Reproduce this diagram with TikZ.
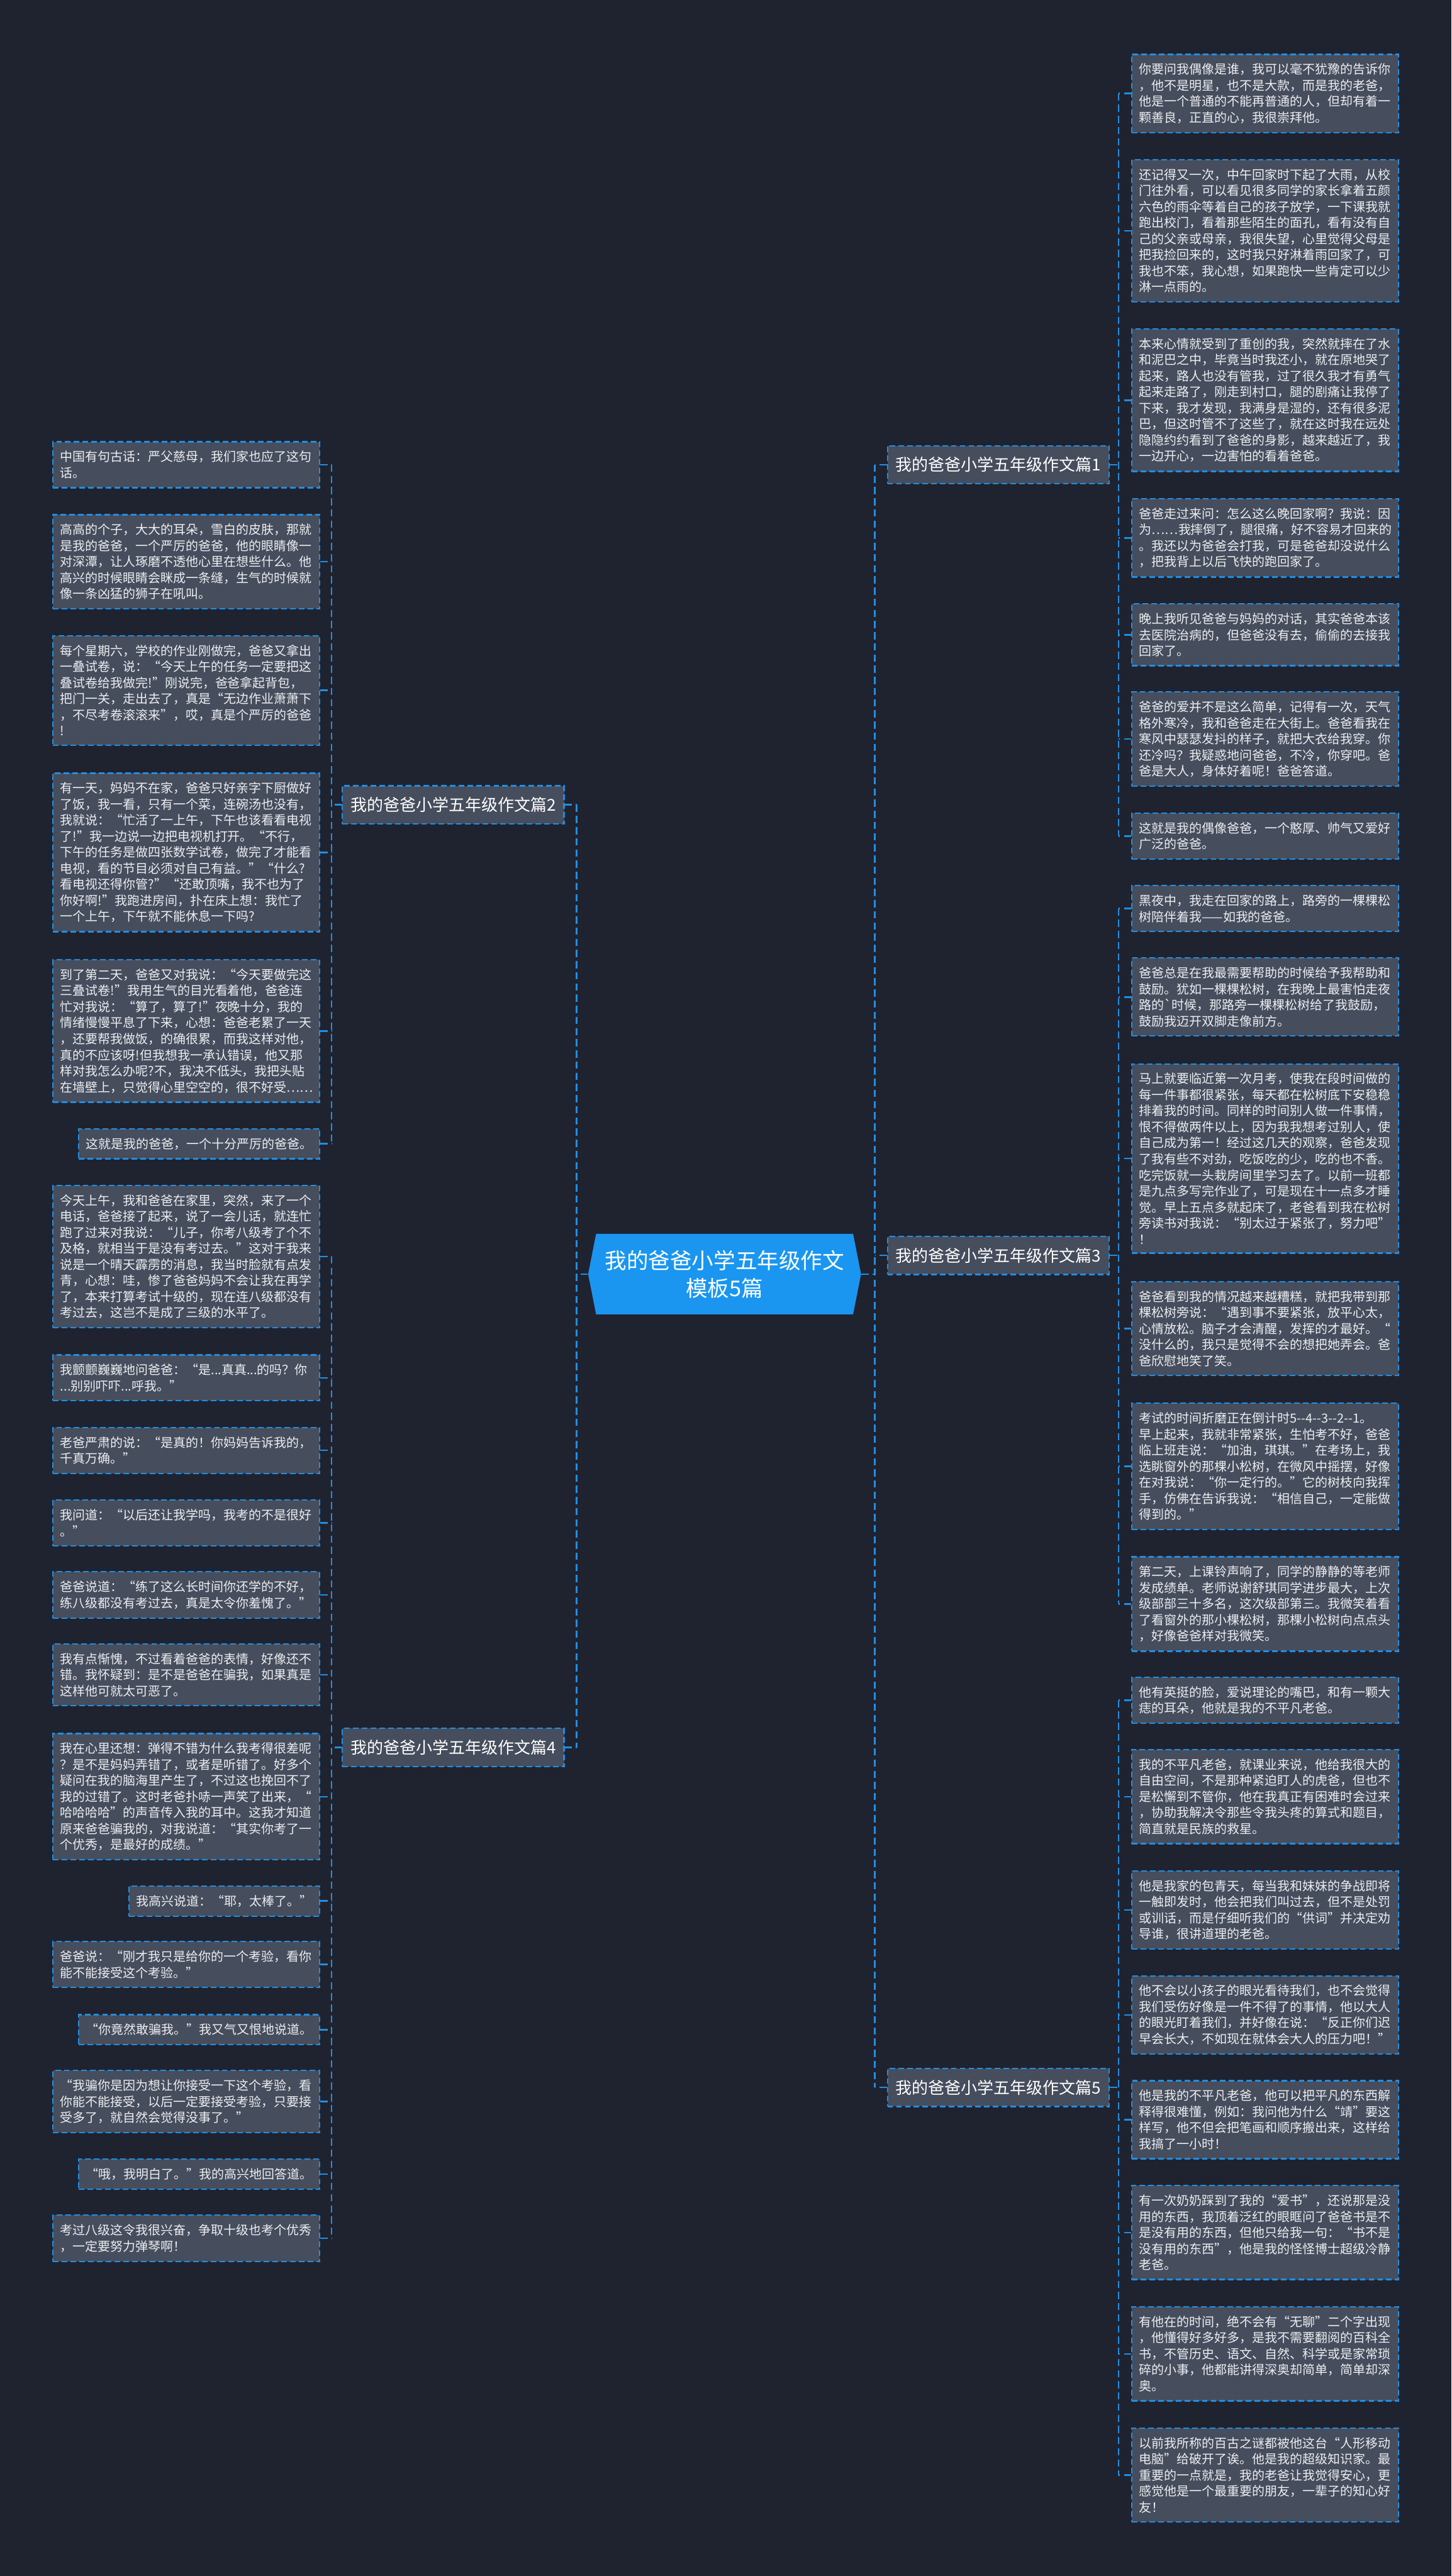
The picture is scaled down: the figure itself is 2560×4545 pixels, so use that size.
\documentclass[tikz,border=0pt]{standalone}
\usepackage{fontspec}
\usepackage{tikz}
\usetikzlibrary{positioning}
\newfontfamily\cjk{Noto Sans CJK SC}
\definecolor{NightBg}{RGB}{31,35,48}
\definecolor{CardGray}{RGB}{70,77,92}
\definecolor{LinkBlue}{RGB}{33,142,226}
\definecolor{RootBlue}{RGB}{26,150,240}
\definecolor{PaleText}{RGB}{236,238,242}
\tikzset{
  note/.style={draw=LinkBlue,fill=CardGray,line width=0.7pt,dash pattern=on 2.8pt off 1.6pt,
    inner xsep=0.13cm,inner ysep=0.16cm,align=left,text=PaleText,
    font=\cjk\fontsize{6.3}{8.05}\selectfont},
  para/.style={note,text width=4.44cm},
  topic/.style={draw=LinkBlue,fill=CardGray,line width=0.7pt,dash pattern=on 2.8pt off 1.6pt,
    inner xsep=0.145cm,inner ysep=0pt,minimum height=0.67cm,text=white,
    font=\cjk\fontsize{8.2}{10}\selectfont},
  root/.style={fill=NightBg,inner sep=0pt,minimum width=4.81cm,minimum height=1.42cm,
    align=center,text=white,font=\cjk\fontsize{10.9}{13.9}\selectfont,
    path picture={\fill[RootBlue] (path picture bounding box.west)
      -- ([xshift=0.14cm]path picture bounding box.north west)
      -- ([xshift=-0.14cm]path picture bounding box.north east)
      -- (path picture bounding box.east)
      -- ([xshift=-0.14cm]path picture bounding box.south east)
      -- ([xshift=0.14cm]path picture bounding box.south west) -- cycle;}},
  link/.style={draw=LinkBlue,line width=0.8pt,dash pattern=on 3.6pt off 2pt},
}

\begin{document}
\begin{tikzpicture}[x=0.01cm,y=-0.01cm]
  \fill[NightBg] (0,0) rectangle (2560,4545);
  \useasboundingbox (0,0) rectangle (2560,4545);

  \node[root] (root) at (1278,2248) {我的爸爸小学五年级作文\\模板5篇};

  \node[topic,anchor=west] (b1) at (1564,820) {我的爸爸小学五年级作文篇1};
  \node[topic,anchor=east] (b2) at (996,1420) {我的爸爸小学五年级作文篇2};
  \node[topic,anchor=west] (b3) at (1564,2215) {我的爸爸小学五年级作文篇3};
  \node[topic,anchor=east] (b4) at (996,3083) {我的爸爸小学五年级作文篇4};
  \node[topic,anchor=west] (b5) at (1564,3683) {我的爸爸小学五年级作文篇5};

  \coordinate (lt) at (1017,2248);
  \coordinate (rt) at (1543,2248);
  \coordinate (s1) at (1973,820);
  \coordinate (s2) at (585,1420);
  \coordinate (s3) at (1973,2215);
  \coordinate (s4) at (585,3083);
  \coordinate (s5) at (1973,3683);

  % 篇1
  \node[para,anchor=west] (p1-1) at (1995,165) {你要问我偶像是谁，我可以毫不犹豫的告诉你\\，他不是明星，也不是大款，而是我的老爸，\\他是一个普通的不能再普通的人，但却有着一\\颗善良，正直的心，我很崇拜他。};
  \node[para,anchor=west] (p1-2) at (1995,407) {还记得又一次，中午回家时下起了大雨，从校\\门往外看，可以看见很多同学的家长拿着五颜\\六色的雨伞等着自己的孩子放学，一下课我就\\跑出校门，看着那些陌生的面孔，看有没有自\\己的父亲或母亲，我很失望，心里觉得父母是\\把我捡回来的，这时我只好淋着雨回家了，可\\我也不笨，我心想，如果跑快一些肯定可以少\\淋一点雨的。};
  \node[para,anchor=west] (p1-3) at (1995,706) {本来心情就受到了重创的我，突然就摔在了水\\和泥巴之中，毕竟当时我还小，就在原地哭了\\起来，路人也没有管我，过了很久我才有勇气\\起来走路了，刚走到村口，腿的剧痛让我停了\\下来，我才发现，我满身是湿的，还有很多泥\\巴，但这时管不了这些了，就在这时我在远处\\隐隐约约看到了爸爸的身影，越来越近了，我\\一边开心，一边害怕的看着爸爸。};
  \node[para,anchor=west] (p1-4) at (1995,949) {爸爸走过来问：怎么这么晚回家啊？我说：因\\为……我摔倒了，腿很痛，好不容易才回来的\\。我还以为爸爸会打我，可是爸爸却没说什么\\，把我背上以后飞快的跑回家了。};
  \node[para,anchor=west] (p1-5) at (1995,1120) {晚上我听见爸爸与妈妈的对话，其实爸爸本该\\去医院治病的，但爸爸没有去，偷偷的去接我\\回家了。};
  \node[para,anchor=west] (p1-6) at (1995,1304) {爸爸的爱并不是这么简单，记得有一次，天气\\格外寒冷，我和爸爸走在大街上。爸爸看我在\\寒风中瑟瑟发抖的样子，就把大衣给我穿。你\\还冷吗？我疑惑地问爸爸，不冷，你穿吧。爸\\爸是大人，身体好着呢！爸爸答道。};
  \node[para,anchor=west] (p1-7) at (1995,1475) {这就是我的偶像爸爸，一个憨厚、帅气又爱好\\广泛的爸爸。};

  % 篇2
  \node[para,anchor=east] (p2-1) at (565,820) {中国有句古话：严父慈母，我们家也应了这句\\话。};
  \node[para,anchor=east] (p2-2) at (565,991) {高高的个子，大大的耳朵，雪白的皮肤，那就\\是我的爸爸，一个严厉的爸爸，他的眼睛像一\\对深潭，让人琢磨不透他心里在想些什么。他\\高兴的时候眼睛会眯成一条缝，生气的时候就\\像一条凶猛的狮子在吼叫。};
  \node[para,anchor=east] (p2-3) at (565,1218) {每个星期六，学校的作业刚做完，爸爸又拿出\\一叠试卷，说：“今天上午的任务一定要把这\\叠试卷给我做完!”刚说完，爸爸拿起背包，\\把门一关，走出去了，真是“无边作业萧萧下\\，不尽考卷滚滚来”，哎，真是个严厉的爸爸\\!};
  \node[para,anchor=east] (p2-4) at (565,1504) {有一天，妈妈不在家，爸爸只好亲字下厨做好\\了饭，我一看，只有一个菜，连碗汤也没有，\\我就说：“忙活了一上午，下午也该看看电视\\了!”我一边说一边把电视机打开。“不行，\\下午的任务是做四张数学试卷，做完了才能看\\电视，看的节目必须对自己有益。”“什么?\\看电视还得你管?”“还敢顶嘴，我不也为了\\你好啊!”我跑进房间，扑在床上想：我忙了\\一个上午，下午就不能休息一下吗?};
  \node[para,anchor=east] (p2-5) at (565,1819) {到了第二天，爸爸又对我说：“今天要做完这\\三叠试卷!”我用生气的目光看着他，爸爸连\\忙对我说：“算了，算了!”夜晚十分，我的\\情绪慢慢平息了下来，心想：爸爸老累了一天\\，还要帮我做饭，的确很累，而我这样对他，\\真的不应该呀!但我想我一承认错误，他又那\\样对我怎么办呢?不，我决不低头，我把头贴\\在墙壁上，只觉得心里空空的，很不好受……};
  \node[note,anchor=east] (p2-6) at (565,2018) {这就是我的爸爸，一个十分严厉的爸爸。};

  % 篇3
  \node[para,anchor=west] (p3-1) at (1995,1603) {黑夜中，我走在回家的路上，路旁的一棵棵松\\树陪伴着我——如我的爸爸。};
  \node[para,anchor=west] (p3-2) at (1995,1759) {爸爸总是在我最需要帮助的时候给予我帮助和\\鼓励。犹如一棵棵松树，在我晚上最害怕走夜\\路的`时候，那路旁一棵棵松树给了我鼓励，\\鼓励我迈开双脚走像前方。};
  \node[para,anchor=west] (p3-3) at (1995,2044) {马上就要临近第一次月考，使我在段时间做的\\每一件事都很紧张，每天都在松树底下安稳稳\\排着我的时间。同样的时间别人做一件事情，\\恨不得做两件以上，因为我我想考过别人，使\\自己成为第一！经过这几天的观察，爸爸发现\\了我有些不对劲，吃饭吃的少，吃的也不香。\\吃完饭就一头栽房间里学习去了。以前一班都\\是九点多写完作业了，可是现在十一点多才睡\\觉。早上五点多就起床了，老爸看到我在松树\\旁读书对我说：“别太过于紧张了，努力吧”\\！};
  \node[para,anchor=west] (p3-4) at (1995,2344) {爸爸看到我的情况越来越糟糕，就把我带到那\\棵松树旁说：“遇到事不要紧张，放平心太，\\心情放松。脑子才会清醒，发挥的才最好。“\\没什么的，我只是觉得不会的想把她弄会。爸\\爸欣慰地笑了笑。};
  \node[para,anchor=west] (p3-5) at (1995,2587) {考试的时间折磨正在倒计时5--4--3--2--1。\\早上起来，我就非常紧张，生怕考不好，爸爸\\临上班走说：“加油，琪琪。”在考场上，我\\选眺窗外的那棵小松树，在微风中摇摆，好像\\在对我说：“你一定行的。”它的树枝向我挥\\手，仿佛在告诉我说：“相信自己，一定能做\\得到的。”};
  \node[para,anchor=west] (p3-6) at (1995,2830) {第二天，上课铃声响了，同学的静静的等老师\\发成绩单。老师说谢舒琪同学进步最大，上次\\级部部三十多名，这次级部第三。我微笑着看\\了看窗外的那小棵松树，那棵小松树向点点头\\，好像爸爸样对我微笑。};

  % 篇4
  \node[para,anchor=east] (p4-1) at (565,2217) {今天上午，我和爸爸在家里，突然，来了一个\\电话，爸爸接了起来，说了一会儿话，就连忙\\跑了过来对我说：“儿子，你考八级考了个不\\及格，就相当于是没有考过去。”这对于我来\\说是一个晴天霹雳的消息，我当时脸就有点发\\青，心想：哇，惨了爸爸妈妈不会让我在再学\\了，本来打算考试十级的，现在连八级都没有\\考过去，这岂不是成了三级的水平了。};
  \node[para,anchor=east] (p4-2) at (565,2431) {我颤颤巍巍地问爸爸：“是...真真...的吗？你\\...别别吓吓...呼我。”};
  \node[para,anchor=east] (p4-3) at (565,2559) {老爸严肃的说：“是真的！你妈妈告诉我的，\\千真万确。”};
  \node[para,anchor=east] (p4-4) at (565,2687) {我问道：“以后还让我学吗，我考的不是很好\\。”};
  \node[para,anchor=east] (p4-5) at (565,2814) {爸爸说道：“练了这么长时间你还学的不好，\\练八级都没有考过去，真是太令你羞愧了。”};
  \node[para,anchor=east] (p4-6) at (565,2955) {我有点惭愧，不过看着爸爸的表情，好像还不\\错。我怀疑到：是不是爸爸在骗我，如果真是\\这样他可就太可恶了。};
  \node[para,anchor=east] (p4-7) at (565,3170) {我在心里还想：弹得不错为什么我考得很差呢\\？是不是妈妈弄错了，或者是听错了。好多个\\疑问在我的脑海里产生了，不过这也挽回不了\\我的过错了。这时老爸扑哧一声笑了出来，“\\哈哈哈哈”的声音传入我的耳中。这我才知道\\原来爸爸骗我的，对我说道：“其实你考了一\\个优秀，是最好的成绩。”};
  \node[note,anchor=east] (p4-8) at (565,3354) {我高兴说道：“耶，太棒了。”};
  \node[para,anchor=east] (p4-9) at (565,3466) {爸爸说：“刚才我只是给你的一个考验，看你\\能不能接受这个考验。”};
  \node[note,anchor=east] (p4-10) at (565,3581) {“你竟然敢骗我。”我又气又恨地说道。};
  \node[para,anchor=east] (p4-11) at (565,3708) {“我骗你是因为想让你接受一下这个考验，看\\你能不能接受，以后一定要接受考验，只要接\\受多了，就自然会觉得没事了。”};
  \node[note,anchor=east] (p4-12) at (565,3836) {“哦，我明白了。”我的高兴地回答道。};
  \node[para,anchor=east] (p4-13) at (565,3949) {考过八级这令我很兴奋，争取十级也考个优秀\\，一定要努力弹琴啊！};

  % 篇5
  \node[para,anchor=west] (p5-1) at (1995,3000) {他有英挺的脸，爱说理论的嘴巴，和有一颗大\\痣的耳朵，他就是我的不平凡老爸。};
  \node[para,anchor=west] (p5-2) at (1995,3170) {我的不平凡老爸，就课业来说，他给我很大的\\自由空间，不是那种紧迫盯人的虎爸，但也不\\是松懈到不管你，他在我真正有困难时会过来\\，协助我解决令那些令我头疼的算式和题目，\\简直就是民族的救星。};
  \node[para,anchor=west] (p5-3) at (1995,3370) {他是我家的包青天，每当我和妹妹的争战即将\\一触即发时，他会把我们叫过去，但不是处罚\\或训话，而是仔细听我们的“供词”并决定劝\\导谁，很讲道理的老爸。};
  \node[para,anchor=west] (p5-4) at (1995,3555) {他不会以小孩子的眼光看待我们，也不会觉得\\我们受伤好像是一件不得了的事情，他以大人\\的眼光盯着我们，并好像在说：“反正你们迟\\早会长大，不如现在就体会大人的压力吧！”};
  \node[para,anchor=west] (p5-5) at (1995,3740) {他是我的不平凡老爸，他可以把平凡的东西解\\释得很难懂，例如：我问他为什么“靖”要这\\样写，他不但会把笔画和顺序搬出来，这样给\\我搞了一小时！};
  \node[para,anchor=west] (p5-6) at (1995,3939) {有一次奶奶踩到了我的“爱书”，还说那是没\\用的东西，我顶着泛红的眼眶问了爸爸书是不\\是没有用的东西，但他只给我一句：“书不是\\没有用的东西”，他是我的怪怪博士超级冷静\\老爸。};
  \node[para,anchor=west] (p5-7) at (1995,4153) {有他在的时间，绝不会有“无聊”二个字出现\\，他懂得好多好多，是我不需要翻阅的百科全\\书，不管历史、语文、自然、科学或是家常琐\\碎的小事，他都能讲得深奥却简单，简单却深\\奥。};
  \node[para,anchor=west] (p5-8) at (1995,4367) {以前我所称的百古之谜都被他这台“人形移动\\电脑”给破开了诶。他是我的超级知识家。最\\重要的一点就是，我的老爸让我觉得安心，更\\感觉他是一个最重要的朋友，一辈子的知心好\\友！};

  % main trunks
  \draw[link] (root.west) -- (lt);
  \draw[link] (root.east) -- (rt);
  \draw[link] (b2.east -| lt) -- (b4.east -| lt);
  \draw[link] (b1.west -| rt) -- (b5.west -| rt);
  \foreach \b in {2,4} \draw[link] (b\b.east) -- (b\b.east -| lt);
  \foreach \b in {1,3,5} \draw[link] (b\b.west) -- (b\b.west -| rt);

  % leaf trunks
  \foreach \b/\n in {2/6,4/13}{
    \draw[link] (b\b.west) -- (s\b);
    \draw[link] (p\b-1.east -| s\b) -- (p\b-\n.east -| s\b);
    \foreach \i in {1,...,\n} \draw[link] (p\b-\i.east) -- (p\b-\i.east -| s\b);
  }
  \foreach \b/\n in {1/7,3/6,5/8}{
    \draw[link] (b\b.east) -- (s\b);
    \draw[link] (p\b-1.west -| s\b) -- (p\b-\n.west -| s\b);
    \foreach \i in {1,...,\n} \draw[link] (p\b-\i.west) -- (p\b-\i.west -| s\b);
  }
\end{tikzpicture}
\end{document}
